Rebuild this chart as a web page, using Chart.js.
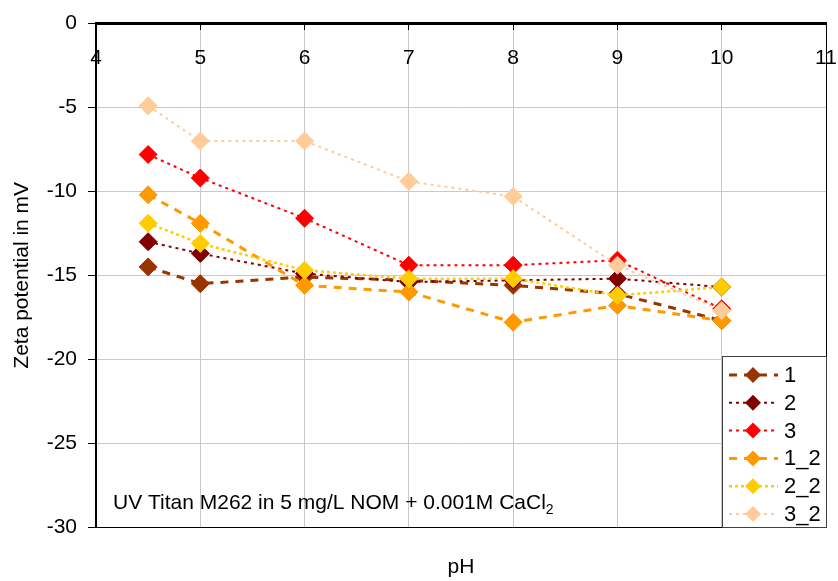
<!DOCTYPE html>
<html>
<head>
<meta charset="utf-8">
<script src="https://cdn.jsdelivr.net/npm/chart.js@4/dist/chart.umd.min.js"></script>
<style>
  html, body { margin: 0; padding: 0; background: #fff; }
  #wrap { width: 838px; height: 581px; }
</style>
</head>
<body>
<div id="wrap"><canvas id="zetaChart" width="838" height="581"></canvas></div>
<script>
const FONT = 'Arial, "Liberation Sans", sans-serif';

const phValues = [4.5, 5, 6, 7, 8, 9, 10];
const seriesNames = ['1', '2', '3', '1_2', '2_2', '3_2'];
const zeta1 = [-14.5, -15.5, -15.1, -15.3, -15.6, -16.1, -17.7];
const zeta2 = [-13.0, -13.7, -14.9, -15.4, -15.3, -15.2, -15.7];
const zeta3 = [-7.8, -9.2, -11.6, -14.4, -14.4, -14.1, -17.0];
const zeta1b = [-10.2, -11.9, -15.6, -16.0, -17.8, -16.8, -17.7];
const zeta2b = [-11.9, -13.1, -14.7, -15.2, -15.2, -16.2, -15.7];
const zeta3b = [-4.9, -7.0, -7.0, -9.4, -10.3, -14.4, -17.1];

const seriesColors = ['#993300', '#800000', '#ff0000', '#ff9900', '#ffcc00', '#ffcc99'];
const seriesDash = [[8, 7], [3, 4], [3, 4], [8, 7], [3, 3], [3, 4]];
const seriesWidth = [3, 2, 2, 3, 2.5, 2];
const seriesData = [zeta1, zeta2, zeta3, zeta1b, zeta2b, zeta3b];

const datasets = seriesNames.map((name, i) => ({
    label: name,
    data: phValues.map((x, j) => ({ x: x, y: seriesData[i][j] })),
    borderColor: seriesColors[i],
    backgroundColor: seriesColors[i],
    borderWidth: seriesWidth[i],
    borderDash: seriesDash[i],
    pointStyle: 'rectRot',
    pointRadius: 9,
    pointBorderWidth: 1,
    pointBackgroundColor: seriesColors[i],
    pointBorderColor: seriesColors[i],
    tension: 0,
    // later series sit on top
    order: seriesNames.length - i
}));

// frame, axis title, note and the legend box with line samples
const decorations = {
    id: 'decorations',
    afterDraw(chart) {
        const ctx = chart.ctx;
        const a = chart.chartArea;
        ctx.save();

        ctx.strokeStyle = '#000';
        ctx.lineWidth = 1;
        ctx.beginPath();
        ctx.moveTo(a.left, a.bottom + 0.5);
        ctx.lineTo(a.right + 0.5, a.bottom + 0.5);
        ctx.lineTo(a.right + 0.5, a.top);
        ctx.stroke();

        ctx.fillStyle = '#000';
        ctx.font = '21px ' + FONT;
        ctx.textAlign = 'center';
        ctx.textBaseline = 'middle';
        ctx.fillText('pH', (a.left + a.right) / 2, 567);

        ctx.save();
        ctx.translate(22, (a.top + a.bottom) / 2);
        ctx.rotate(-Math.PI / 2);
        ctx.fillText('Zeta potential in mV', 0, 0);
        ctx.restore();

        ctx.textAlign = 'left';
        ctx.textBaseline = 'alphabetic';
        const note = 'UV Titan M262 in 5 mg/L NOM + 0.001M CaCl';
        ctx.font = '21px ' + FONT;
        ctx.fillText(note, 113, 509);
        const w = ctx.measureText(note).width;
        ctx.font = '14px ' + FONT;
        ctx.fillText('2', 113 + w, 514);

        const box = { x: 722.5, y: 356.5, w: 104, h: 171 };
        ctx.fillStyle = '#fff';
        ctx.fillRect(box.x, box.y, box.w, box.h);
        ctx.strokeStyle = '#404040';
        ctx.lineWidth = 1;
        ctx.strokeRect(box.x, box.y, box.w, box.h);

        chart.data.datasets.forEach((ds, i) => {
            const cy = 375 + i * 27.8;
            ctx.save();
            ctx.strokeStyle = ds.borderColor;
            ctx.lineWidth = ds.borderWidth;
            ctx.setLineDash(ds.borderDash);
            ctx.beginPath();
            ctx.moveTo(729, cy);
            ctx.lineTo(778, cy);
            ctx.stroke();
            ctx.restore();
            ctx.fillStyle = ds.backgroundColor;
            ctx.beginPath();
            ctx.moveTo(753, cy - 8);
            ctx.lineTo(761, cy);
            ctx.lineTo(753, cy + 8);
            ctx.lineTo(745, cy);
            ctx.closePath();
            ctx.fill();
            ctx.fillStyle = '#000';
            ctx.font = '22px ' + FONT;
            ctx.textBaseline = 'middle';
            ctx.fillText(ds.label, 784, cy + 1);
        });
        ctx.restore();
    }
};

new Chart(document.getElementById('zetaChart').getContext('2d'), {
    type: 'line',
    data: { datasets: datasets },
    options: {
        responsive: false,
        animation: false,
        layout: { padding: { left: 0, top: 18, right: 12, bottom: 54 } },
        plugins: {
            legend: { display: false },
            tooltip: { enabled: false }
        },
        scales: {
            x: {
                type: 'linear',
                position: { y: 0 },
                min: 4,
                max: 11,
                afterFit: s => { s.paddingLeft = 0; s.paddingRight = 0; },
                ticks: {
                    stepSize: 1,
                    padding: 17,
                    color: '#000',
                    font: { family: FONT, size: 21 }
                },
                grid: {
                    color: ctx => (ctx.tick && ctx.tick.value === 11 ? '#000' : '#c8c8c8'),
                    tickColor: '#000',
                    tickLength: 5,
                    lineWidth: 1
                },
                border: { color: '#000', width: 3 }
            },
            y: {
                min: -30,
                max: 0,
                afterFit: s => { s.width = 96; },
                ticks: {
                    stepSize: 5,
                    padding: 11,
                    color: '#000',
                    font: { family: FONT, size: 21 }
                },
                grid: {
                    color: ctx => (ctx.tick && ctx.tick.value === -30 ? '#000' : '#c8c8c8'),
                    tickColor: '#000',
                    tickLength: 8,
                    lineWidth: 1
                },
                border: { color: '#000', width: 2 }
            }
        }
    },
    plugins: [decorations]
});
</script>
</body>
</html>
